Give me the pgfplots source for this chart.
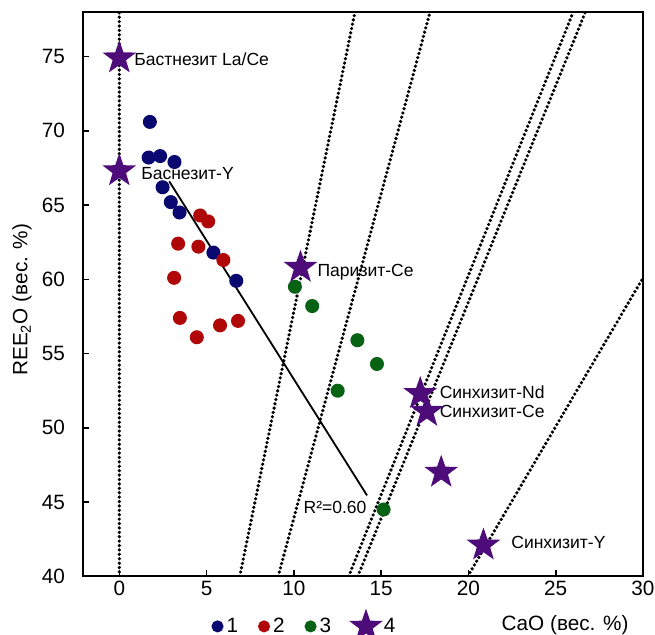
\documentclass[border=0pt]{standalone}
\usepackage{fontspec}
\setmainfont{Liberation Sans}
\usepackage{pgfplots}
\pgfplotsset{compat=1.18}

\definecolor{c1}{RGB}{8,8,112}
\definecolor{c2}{RGB}{176,8,8}
\definecolor{c3}{RGB}{8,98,20}
\definecolor{c4}{RGB}{78,12,122}

% filled five-pointed star
\pgfdeclareplotmark{fstar}{%
  \pgfpathmoveto{\pgfqpointpolar{90}{\pgfplotmarksize}}%
  \pgfpathlineto{\pgfqpointpolar{126}{0.4\pgfplotmarksize}}%
  \pgfpathlineto{\pgfqpointpolar{162}{\pgfplotmarksize}}%
  \pgfpathlineto{\pgfqpointpolar{198}{0.4\pgfplotmarksize}}%
  \pgfpathlineto{\pgfqpointpolar{234}{\pgfplotmarksize}}%
  \pgfpathlineto{\pgfqpointpolar{270}{0.4\pgfplotmarksize}}%
  \pgfpathlineto{\pgfqpointpolar{306}{\pgfplotmarksize}}%
  \pgfpathlineto{\pgfqpointpolar{342}{0.4\pgfplotmarksize}}%
  \pgfpathlineto{\pgfqpointpolar{18}{\pgfplotmarksize}}%
  \pgfpathlineto{\pgfqpointpolar{54}{0.4\pgfplotmarksize}}%
  \pgfpathclose
  \pgfusepathqfillstroke}

\tikzset{dotl/.style={line width=1.8bp, line cap=round, dash pattern=on 0pt off 2.2bp, black}}

\begin{document}
\begin{tikzpicture}
\begin{axis}[
    name=ax,
    scale only axis,
    width=280bp, height=282bp,
    xmin=-2.1, xmax=30, ymin=40, ymax=78,
    xtick={0,5,...,30}, ytick={40,45,...,75},
    tick align=inside, xtick pos=bottom, ytick pos=left,
    major tick length=3bp,
    line width=1bp,
    tick style={line width=0.8bp, black},
    ticklabel style={font=\fontsize{10.4}{12}\selectfont},
    /pgf/number format/assume math mode=true,
    xticklabel style={yshift=1.5bp},
    yticklabel style={xshift=-5bp},
    xlabel={CaO (вес. \%)},
    ylabel={REE\textsubscript{2}O (вес. \%)},
    label style={font=\fontsize{10.4}{12}\selectfont},
    xlabel style={at={(axis description cs:0.861,-0.087)}, anchor=center},
    ylabel style={at={(axis description cs:-0.108,0.49)}, anchor=center},
    legend columns=4,
    legend style={at={(axis description cs:0.23,-0.087)}, anchor=west,
        draw=none, fill=none, inner sep=0pt,
        font=\fontsize{10.4}{12}\selectfont,
        /tikz/every even column/.append style={column sep=8.5bp}},
    legend image code/.code={\draw[#1] plot coordinates {(0.1cm,0cm)};},
]
% guide lines
\addplot[dotl, forget plot] coordinates {(0,40) (0,78)};
\addplot[dotl, forget plot] coordinates {(6.9,40) (13.5,78)};
\addplot[dotl, forget plot] coordinates {(9.1,40) (17.8,78)};
\addplot[dotl, forget plot] coordinates {(13.14,40) (26.0,78)};
\addplot[dotl, forget plot] coordinates {(13.66,40) (26.7,78)};
\addplot[dotl, forget plot] coordinates {(19.96,40) (30,60.1)};
% regression line
\addplot[black, line width=0.9bp, forget plot] coordinates {(2.86,66.6) (14.19,45.45)};

% series 1
\addplot[only marks, mark=*, mark size=3bp, c1, forget plot] coordinates {
(1.75,70.6) (1.68,68.2) (2.34,68.3) (3.16,67.9) (2.48,66.2)
(2.95,65.2) (3.45,64.5) (5.39,61.8) (6.70,59.9)};
% series 2
\addplot[only marks, mark=*, mark size=3bp, c2, forget plot] coordinates {
(4.63,64.3) (5.09,63.9) (3.37,62.4) (4.53,62.2) (5.96,61.3)
(3.14,60.1) (3.47,57.4) (4.44,56.1) (5.77,56.9) (6.80,57.2)};
% series 3
\addplot[only marks, mark=*, mark size=3bp, c3, forget plot] coordinates {
(10.06,59.5) (11.05,58.2) (13.64,55.9) (14.76,54.3) (12.51,52.5) (15.14,44.5)};
% series 4
\addplot[only marks, mark=fstar, mark size=7.3bp, c4, forget plot] coordinates {
(0,74.9) (0,67.3) (10.38,60.8) (17.24,52.3) (17.62,51.1) (18.44,47.0) (20.86,42.1)};

\addlegendimage{only marks, mark=*, mark size=2.5bp, c1}
\addlegendentry{1}
\addlegendimage{only marks, mark=*, mark size=2.5bp, c2}
\addlegendentry{2}
\addlegendimage{only marks, mark=*, mark size=2.5bp, c3}
\addlegendentry{3}
\addlegendimage{only marks, mark=fstar, mark size=7.3bp, c4}
\addlegendentry{4}

\begin{scope}[font=\fontsize{8.8}{10}\selectfont]
\node[anchor=west, inner sep=0pt] at (axis cs:0.8,74.8) {Бастнезит La/Ce};
\node[anchor=west, inner sep=0pt] at (axis cs:1.2,67.1) {Баснезит-Y};
\node[anchor=west, inner sep=0pt] at (axis cs:11.3,60.5) {Паризит-Се};
\node[anchor=west, inner sep=0pt] at (axis cs:18.3,52.4) {Синхизит-Nd};
\node[anchor=west, inner sep=0pt] at (axis cs:18.3,51.1) {Синхизит-Се};
\node[anchor=west, inner sep=0pt] at (axis cs:22.4,42.3) {Синхизит-Y};
\node[anchor=west, inner sep=0pt] at (axis cs:10.5,44.66) {R²=0.60};
\end{scope}
\end{axis}
\pgfresetboundingbox
\useasboundingbox ([xshift=-41.3bp,yshift=-29.2bp]ax.south west) rectangle ([xshift=6bp,yshift=6bp]ax.north east);
\end{tikzpicture}
\end{document}
